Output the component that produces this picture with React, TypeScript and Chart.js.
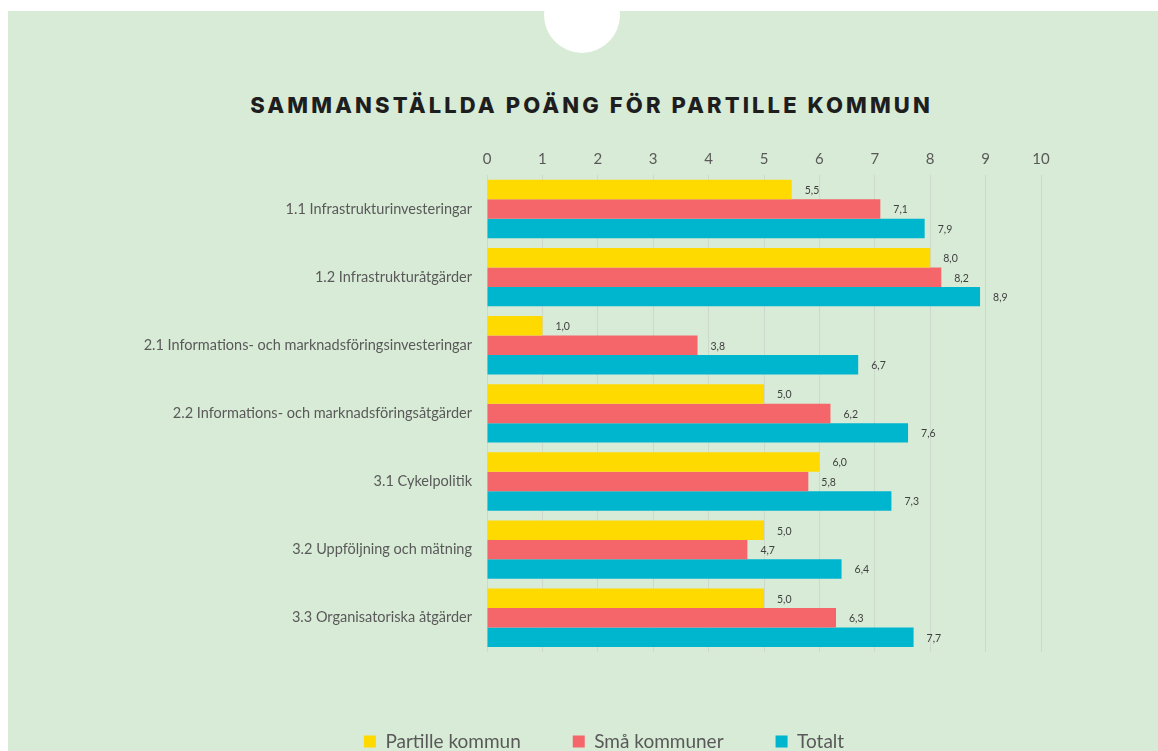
import React, { useEffect, useRef } from "react";
import { Chart, registerables } from "chart.js";

Chart.register(...registerables);

const categories = [
  "1.1 Infrastrukturinvesteringar",
  "1.2 Infrastrukturåtgärder",
  "2.1 Informations- och marknadsföringsinvesteringar",
  "2.2 Informations- och marknadsföringsåtgärder",
  "3.1 Cykelpolitik",
  "3.2 Uppföljning och mätning",
  "3.3 Organisatoriska åtgärder",
];
const partille = [5.5, 8.0, 1.0, 5.0, 6.0, 5.0, 5.0];
const smaKommuner = [7.1, 8.2, 3.8, 6.2, 5.8, 4.7, 6.3];
const totalt = [7.9, 8.9, 6.7, 7.6, 7.3, 6.4, 7.7];
const seriesNames = ["Partille kommun", "Små kommuner", "Totalt"];
const seriesColors = ["#FFDA00", "#F4666A", "#00B5CE"];
const title = "SAMMANSTÄLLDA POÄNG FÖR PARTILLE KOMMUN";

const FONT = "Lato, 'Open Sans', sans-serif";

const valueLabels = {
  id: "valueLabels",
  afterDatasetsDraw(chart: any) {
    const ctx = chart.ctx;
    ctx.save();
    ctx.font = `10.5px ${FONT}`;
    ctx.fillStyle = "#404040";
    ctx.textAlign = "left";
    ctx.textBaseline = "middle";
    chart.data.datasets.forEach((ds: any, di: number) => {
      const meta = chart.getDatasetMeta(di);
      meta.data.forEach((bar: any, i: number) => {
        const v = ds.data[i];
        ctx.fillText(v.toFixed(1).replace(".", ","), bar.x + 13, bar.y + 1);
      });
    });
    ctx.restore();
  },
};

// let long category labels extend left of the (fixed-width) y axis box
const widenLabelArea = {
  id: "widenLabelArea",
  afterLayout(chart: any) {
    if (chart.scales.y) chart.scales.y.left = 0;
  },
};

export default function App() {
  const ref = useRef<HTMLCanvasElement>(null);

  useEffect(() => {
    if (!ref.current) return;
    const chart = new Chart(ref.current, {
      type: "bar",
      data: {
        labels: categories,
        datasets: [partille, smaKommuner, totalt].map((d, i) => ({
          label: seriesNames[i],
          data: d,
          backgroundColor: seriesColors[i],
          borderWidth: 0,
          categoryPercentage: 0.857,
          barPercentage: 1,
        })),
      },
      options: {
        indexAxis: "y",
        responsive: false,
        animation: false,
        devicePixelRatio: 1,
        layout: { padding: { left: 167, right: 117, top: 145, bottom: 0 } },
        scales: {
          x: {
            position: "top",
            min: 0,
            max: 10,
            ticks: {
              stepSize: 1,
              color: "#595959",
              font: { family: FONT, size: 15 },
              padding: 7,
            },
            grid: { color: "#cfd8cc", drawTicks: false, lineWidth: 1 },
            border: { display: false },
            afterFit: (s: any) => {
              s.height = 30;
            },
          },
          y: {
            ticks: {
              color: "#595959",
              font: { family: FONT, size: 14.5 },
              padding: 15,
            },
            grid: { display: false, drawTicks: false },
            border: { display: false },
            afterFit: (s: any) => {
              s.width = 320;
            },
          },
        },
        plugins: {
          legend: {
            position: "bottom",
            title: {
              display: true,
              text: " ",
              font: { size: 1 },
              padding: { top: 27, bottom: 0 },
            },
            labels: {
              color: "#595959",
              font: { family: FONT, size: 19 },
              boxWidth: 12,
              boxHeight: 12,
              padding: 52,
            },
          },
          tooltip: { enabled: false },
        },
      },
      plugins: [valueLabels, widenLabelArea],
    });
    return () => chart.destroy();
  }, []);

  return (
    <div
      style={{
        position: "fixed",
        left: 0,
        top: 0,
        width: 1158,
        height: 751,
        overflow: "hidden",
        background: "#ffffff",
      }}
    >
      <div
        style={{
          position: "absolute",
          left: 8,
          top: 11,
          width: 1150,
          height: 800,
          background: "#D8EBD6",
        }}
      />
      <div
        style={{
          position: "absolute",
          left: 582 - 38,
          top: 15 - 38,
          width: 76,
          height: 76,
          borderRadius: "50%",
          background: "#ffffff",
        }}
      />
      <div
        style={{
          position: "absolute",
          left: 0,
          top: 94,
          width: 1183,
          textAlign: "center",
          fontFamily: "Inter, 'DejaVu Sans', sans-serif",
          fontWeight: 800,
          fontSize: 22,
          lineHeight: "22px",
          letterSpacing: "3.1px",
          color: "#1E1E1E",
          whiteSpace: "nowrap",
        }}
      >
        {title}
      </div>
      <canvas
        ref={ref}
        width={1158}
        height={761}
        style={{ position: "absolute", left: 0, top: 0, width: 1158, height: 761 }}
      />
    </div>
  );
}
